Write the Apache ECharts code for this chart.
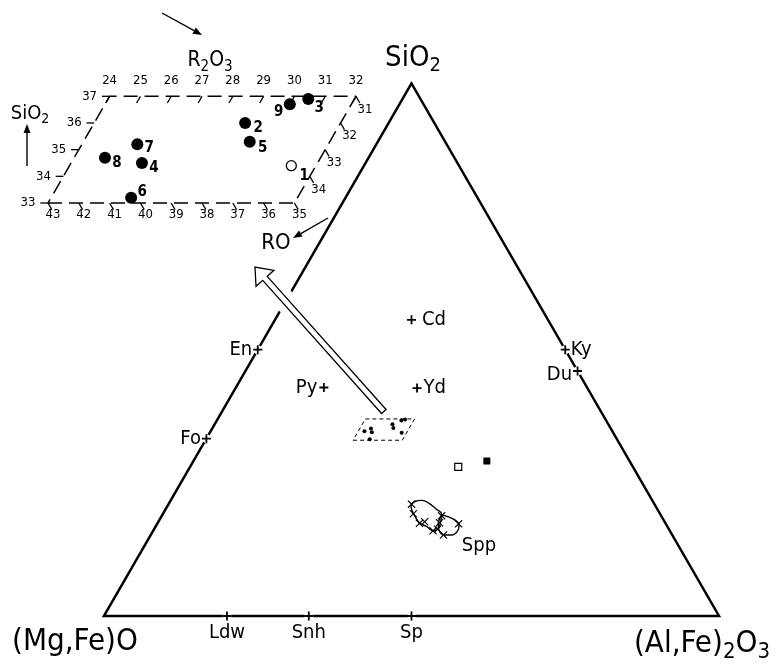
<!DOCTYPE html>
<html>
<head>
<meta charset="utf-8">
<title>SiO2 - (Mg,Fe)O - (Al,Fe)2O3</title>
<script src="https://cdn.jsdelivr.net/npm/echarts@6/dist/echarts.min.js"></script>
<style>
  html, body { margin: 0; padding: 0; background: #fff; }
  #chart { width: 778px; height: 664px; }
</style>
</head>
<body>
<div id="chart"></div>
<script>
// compositions in mol %: [SiO2, R2O3], RO = the rest
var phaseNames = ['En', 'Fo', 'Py', 'Cd', 'Yd', 'Ky', 'Du', 'Ldw', 'Snh', 'Sp'];
var phaseSiO2 = [50, 33.3, 42.9, 55.6, 42.8, 50, 46, 0, 0, 0];
var phaseR2O3 = [0, 0, 14.3, 22.2, 29.5, 50, 54, 20, 33.3, 50];

// samples 1-9 (1 = open circle)
var sampleNames = ['1', '2', '3', '4', '5', '6', '7', '8', '9'];
var sampleSiO2 = [34.4, 36.0, 36.9, 34.5, 35.3, 33.2, 35.2, 34.7, 36.7];
var sampleR2O3 = [31.2, 28.9, 30.5, 26.3, 29.4, 26.6, 25.8, 25.0, 30.0];

// squares: filled, open
var squareSiO2 = [29.1, 28.0];
var squareR2O3 = [47.7, 43.6];

// Spp analyses
var sppSiO2 = [21.0, 19.2, 17.4, 17.7, 16.0, 17.5, 18.8, 16.3, 15.2, 17.3];
var sppR2O3 = [39.5, 40.7, 42.6, 43.3, 45.5, 45.8, 45.5, 46.1, 47.6, 49.0];

// outlines round the Spp analyses
var loopA_SiO2 = [20.8, 21.5, 21.7, 21.2, 20.0, 19.2, 17.7, 16.5, 16.0, 16.8, 17.4, 18.6, 19.9, 20.8];
var loopA_R2O3 = [39.5, 39.8, 40.8, 42.2, 44.1, 45.3, 45.9, 46.1, 45.5, 44.1, 42.7, 41.3, 40.1, 39.5];
var loopB_SiO2 = [19.0, 18.6, 18.0, 17.1, 15.8, 15.2, 15.2, 15.8, 17.1, 19.0];
var loopB_R2O3 = [45.4, 46.7, 48.1, 49.2, 49.5, 48.9, 47.8, 46.7, 45.8, 45.4];

// enlarged window and its ticks
var winSiO2 = [33, 37];
var winR2O3 = [24, 32];
var r2o3Ticks = [24, 25, 26, 27, 28, 29, 30, 31, 32];
var roBottomTicks = [43, 42, 41, 40, 39, 38, 37, 36, 35];
var sio2Ticks = [33, 34, 35, 36, 37];
var roRightTicks = [31, 32, 33, 34];

// big arrow from the window to the enlargement
var arrowTail = [38.4, 26.3];
var arrowHead = [65.5, -8.2];

var FONT = '"DejaVu Sans Condensed", "DejaVu Sans", sans-serif';
var INK = '#000';

function plot(s, r) {
  return [r + s / 2, s * Math.sqrt(3) / 2];
}
function pairs(sArr, rArr) {
  return sArr.map(function (s, i) { return plot(s, rArr[i]); });
}

var chart = echarts.init(document.getElementById('chart'));

// triangle corners: BL, apex, BR, BL, apex (so every corner is joined)
var triangle = [plot(0, 0), plot(100, 0), plot(0, 100), plot(0, 0), plot(100, 0)];

var win = [
  plot(winSiO2[0], winR2O3[0]), plot(winSiO2[0], winR2O3[1]),
  plot(winSiO2[1], winR2O3[1]), plot(winSiO2[1], winR2O3[0]),
  plot(winSiO2[0], winR2O3[0])
];

var plusPath = 'path://M4,0h2v4h4v2h-4v4h-2v-4h-4v-2h4z';
var crossPath = 'path://M0,1L1,0L5,4L9,0L10,1L6,5L10,9L9,10L5,6L1,10L0,9L4,5Z';

var phaseLabel = {
  En: { position: 'left', distance: 1 },
  Fo: { position: 'left', distance: 1 },
  Py: { position: 'left', distance: 2 },
  Cd: { position: 'right', distance: 6 },
  Yd: { position: 'right', distance: 2 },
  Ky: { position: 'right', distance: 1 },
  Du: { position: 'left', distance: 1, offset: [0, 4] },
  Ldw: { position: 'bottom', distance: 2 },
  Snh: { position: 'bottom', distance: 2 },
  Sp: { position: 'bottom', distance: 2 }
};
var phaseData = phaseNames.map(function (n, i) {
  return { name: n, value: plot(phaseSiO2[i], phaseR2O3[i]), label: phaseLabel[n] };
});

var sampleOffset = {
  '1': [13, 10], '2': [13, 5], '3': [11, 9], '4': [12, 5], '5': [13, 6],
  '6': [11, -6], '7': [12, 4], '8': [12, 5], '9': [-11, 8]
};
var sampleData = sampleNames.map(function (n, i) {
  var item = {
    name: n, value: plot(sampleSiO2[i], sampleR2O3[i]),
    label: { offset: sampleOffset[n] }
  };
  if (n === '1') {
    item.symbol = 'circle';
    item.symbolSize = 10;
    item.itemStyle = { color: '#fff', borderColor: INK, borderWidth: 1.3, opacity: 1 };
  }
  return item;
});

// inset ticks: [x0, y0, x1, y1, labelDx, labelDy]
var tickItems = [];
var tickText = [];
function addTick(s, r, ds, dr, lx, ly, text) {
  var a = plot(s, r), b = plot(s + ds, r + dr);
  tickItems.push([a[0], a[1], b[0], b[1], lx, ly]);
  tickText.push(String(text));
}
r2o3Ticks.forEach(function (t) { addTick(winSiO2[1], t, -0.25, 0, 0, -16, t); });
roBottomTicks.forEach(function (t) {
  addTick(winSiO2[0], 100 - winSiO2[0] - t, -0.25, 0.25, 5, 12, t);
});
sio2Ticks.forEach(function (t) { addTick(t, winR2O3[0], 0, -0.25, -20, 0, t); });
roRightTicks.forEach(function (t) {
  addTick(100 - winR2O3[1] - t, winR2O3[1], -0.25, 0.25, 9, 13, t);
});

function arrow(x1, y1, x2, y2) {
  var a = Math.atan2(y2 - y1, x2 - x1), h = 9, w = 3.5;
  var bx = x2 - Math.cos(a) * h, by = y2 - Math.sin(a) * h;
  return [
    { type: 'line', shape: { x1: x1, y1: y1, x2: bx, y2: by }, style: { stroke: INK, lineWidth: 1.4 } },
    { type: 'polygon', shape: { points: [[x2, y2], [bx - Math.sin(a) * w, by + Math.cos(a) * w], [bx + Math.sin(a) * w, by - Math.cos(a) * w]] }, style: { fill: INK } }
  ];
}
// formula text, '_' marks the next character as a subscript
function formula(x, y, str, size) {
  var parts = str.replace(/_(\d)/g, '{s|$1}').replace(/(^|\})([^{]+)/g, '$1{m|$2}');
  var sub = Math.round(size * 0.7);
  return {
    type: 'text', x: x, y: y, z: 20,
    style: {
      text: parts, fill: INK, align: 'center', verticalAlign: 'middle',
      rich: {
        m: { fontSize: size, fontFamily: FONT, fill: INK, verticalAlign: 'middle' },
        s: { fontSize: sub, fontFamily: FONT, fill: INK, verticalAlign: 'middle', padding: [Math.round(size * 0.55), 0, 0, 0] }
      }
    }
  };
}

var graphics = [
  formula(413, 58, 'SiO_2', 29),
  formula(75, 642, '(Mg,Fe)O', 31),
  formula(702, 644, '(Al,Fe)_2O_3', 31),
  formula(479, 546, 'Spp', 20),
  formula(210, 61, 'R_2O_3', 21),
  formula(30, 114, 'SiO_2', 20),
  formula(276, 243, 'RO', 22)
].concat(arrow(162, 13, 202, 35), arrow(27, 166, 27, 124), arrow(328, 218, 293, 238));

var option = {
  backgroundColor: '#fff',
  animation: false,
  grid: [
    { left: 0, top: 0, width: 778, height: 664, outerBoundsMode: 'none' },
    { left: 0, top: 0, width: 400, height: 260, outerBoundsMode: 'none' }
  ],
  xAxis: [
    { gridIndex: 0, type: 'value', min: -16.911, max: 109.593, show: false },
    { gridIndex: 1, type: 'value', min: 38.9416, max: 51.9286, show: false }
  ],
  yAxis: [
    { gridIndex: 0, type: 'value', min: -7.805, max: 100.163, show: false },
    { gridIndex: 1, type: 'value', min: 26.7281, max: 35.1697, show: false }
  ],
  graphic: graphics,
  series: [
    {
      type: 'line', data: triangle, symbol: 'none', z: 2,
      lineStyle: { color: INK, width: 2.5, join: 'miter' }
    },
    {
      type: 'line', data: win, symbol: 'none', z: 2,
      lineStyle: { color: INK, width: 1, type: [4, 3] }
    },
    {
      type: 'scatter', data: pairs(sampleSiO2, sampleR2O3), symbol: 'circle', symbolSize: 4, z: 3,
      itemStyle: { color: INK, opacity: 1 }
    },
    {
      // white gap where a phase sits on an edge
      type: 'scatter', data: phaseData.map(function (d) { return d.value; }),
      symbol: 'circle', symbolSize: 9, z: 4, silent: true,
      itemStyle: { color: '#fff', opacity: 1 }
    },
    {
      type: 'scatter', data: phaseData, symbol: plusPath, symbolSize: 9, z: 5,
      itemStyle: { color: INK, opacity: 1 },
      label: { show: true, formatter: '{b}', color: INK, fontSize: 20, fontFamily: FONT }
    },
    {
      type: 'scatter', symbol: 'rect', symbolSize: 7, z: 4,
      data: [
        { value: plot(squareSiO2[0], squareR2O3[0]), itemStyle: { color: INK, opacity: 1 } },
        { value: plot(squareSiO2[1], squareR2O3[1]), itemStyle: { color: '#fff', borderColor: INK, borderWidth: 1.2, opacity: 1 } }
      ]
    },
    {
      type: 'scatter', data: pairs(sppSiO2, sppR2O3), symbol: crossPath, symbolSize: 8, z: 4,
      itemStyle: { color: INK, opacity: 1 }
    },
    {
      type: 'line', data: pairs(loopA_SiO2, loopA_R2O3), symbol: 'none', smooth: 0.4, z: 3,
      lineStyle: { color: INK, width: 1.4 }
    },
    {
      type: 'line', data: pairs(loopB_SiO2, loopB_R2O3), symbol: 'none', smooth: 0.4, z: 3,
      lineStyle: { color: INK, width: 1.4 }
    },
    {
      type: 'custom', z: 10,
      data: [plot(arrowTail[0], arrowTail[1]).concat(plot(arrowHead[0], arrowHead[1]))],
      renderItem: function (params, api) {
        var p0 = api.coord([api.value(0), api.value(1)]);
        var p1 = api.coord([api.value(2), api.value(3)]);
        var dx = p1[0] - p0[0], dy = p1[1] - p0[1];
        var len = Math.sqrt(dx * dx + dy * dy);
        var ux = dx / len, uy = dy / len, nx = -uy, ny = ux;
        var hl = 15, hw = 12, sw = 3;
        var bx = p1[0] - ux * hl, by = p1[1] - uy * hl;
        var pts = [
          [p0[0] + nx * sw, p0[1] + ny * sw],
          [bx + nx * sw, by + ny * sw],
          [bx + nx * hw, by + ny * hw],
          [p1[0], p1[1]],
          [bx - nx * hw, by - ny * hw],
          [bx - nx * sw, by - ny * sw],
          [p0[0] - nx * sw, p0[1] - ny * sw]
        ];
        var mx = p0[0] + dx * 0.6, my = p0[1] + dy * 0.6;
        return {
          type: 'group', children: [
            { type: 'line', shape: { x1: bx, y1: by, x2: mx, y2: my }, style: { stroke: '#fff', lineWidth: 22 } },
            { type: 'polygon', shape: { points: pts }, style: { fill: '#fff', stroke: INK, lineWidth: 1.3 } }
          ]
        };
      }
    },
    // enlargement
    {
      type: 'line', xAxisIndex: 1, yAxisIndex: 1, data: win, symbol: 'none', z: 2,
      lineStyle: { color: INK, width: 1.5, type: [14, 7] }
    },
    {
      type: 'custom', xAxisIndex: 1, yAxisIndex: 1, z: 3, clip: false,
      data: tickItems,
      renderItem: function (params, api) {
        var p = api.coord([api.value(0), api.value(1)]);
        var q = api.coord([api.value(2), api.value(3)]);
        return {
          type: 'group', children: [
            { type: 'line', shape: { x1: p[0], y1: p[1], x2: q[0], y2: q[1] }, style: { stroke: INK, lineWidth: 1.3 } },
            {
              type: 'text', x: p[0] + api.value(4), y: p[1] + api.value(5),
              style: { text: tickText[params.dataIndex], fill: INK, font: '13px ' + FONT, align: 'center', verticalAlign: 'middle' }
            }
          ]
        };
      }
    },
    {
      type: 'scatter', xAxisIndex: 1, yAxisIndex: 1, data: sampleData, symbol: 'circle', symbolSize: 12, z: 4,
      itemStyle: { color: INK, opacity: 1 },
      label: { show: true, formatter: '{b}', position: 'inside', color: INK, fontSize: 15, fontWeight: 'bold', fontFamily: FONT }
    }
  ]
};

chart.setOption(option);
</script>
</body>
</html>
